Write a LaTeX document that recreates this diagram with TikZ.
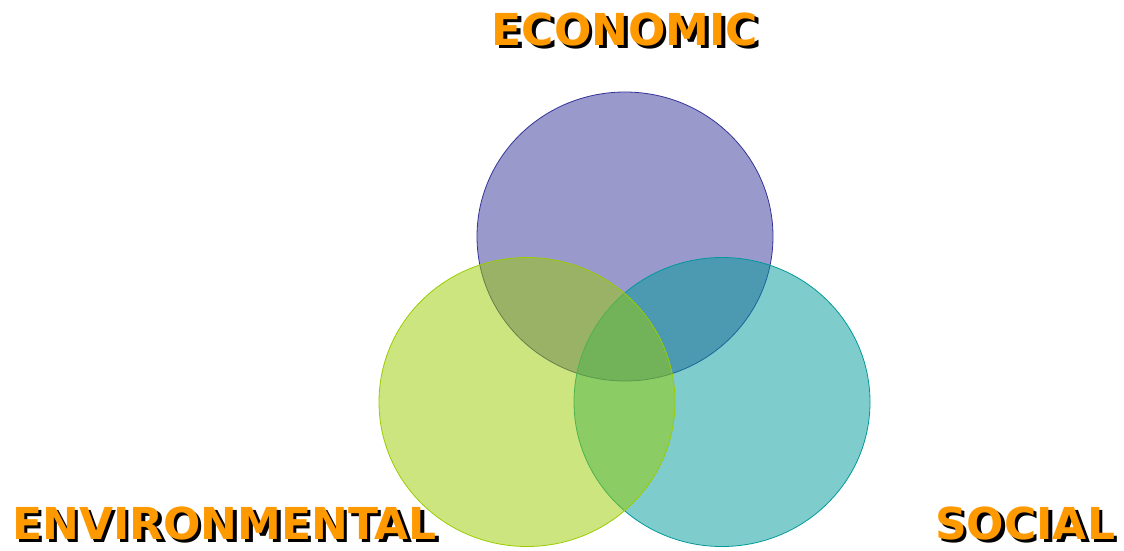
\documentclass[tikz,border=0pt]{standalone}
\usepackage{fontspec}
\setmainfont{DejaVu Sans}
\usepackage{xcolor}
\definecolor{econ}{HTML}{333399}
\definecolor{envi}{HTML}{99CC00}
\definecolor{soci}{HTML}{009999}
\definecolor{labelorange}{HTML}{FF9900}
\newcommand{\dropshadow}[1]{\makebox[0pt][l]{\hspace{3.5pt}\raisebox{-3.5pt}{\color{black}#1}}{\color{labelorange}#1}}

\begin{document}
\begin{tikzpicture}[x=1pt,y=-1pt,
	sphere/.style={line width=0.8pt, fill opacity=0.5},
	title/.style={inner sep=0pt, font=\fontsize{44}{48}\bfseries\selectfont}]
	\useasboundingbox (0,0) rectangle (1124,550);
	
	\draw[sphere, draw=econ, fill=econ] (625,236.5) ellipse [x radius=148, y radius=144.5];
	\draw[sphere, draw=soci, fill=soci] (722,402) ellipse [x radius=148, y radius=144.5];
	\draw[sphere, draw=envi, fill=envi] (527,402) ellipse [x radius=148, y radius=144.5];
	
	\node[title, anchor=base] (economic) at (625,45) {\dropshadow{ECONOMIC}};
	\node[title, anchor=base west] (environmental) at (12,539) {\dropshadow{ENVIRONMENTAL}};
	\node[title, anchor=base west] (social) at (935,539) {\dropshadow{SOCIAL}};
	
\end{tikzpicture}
\end{document}
